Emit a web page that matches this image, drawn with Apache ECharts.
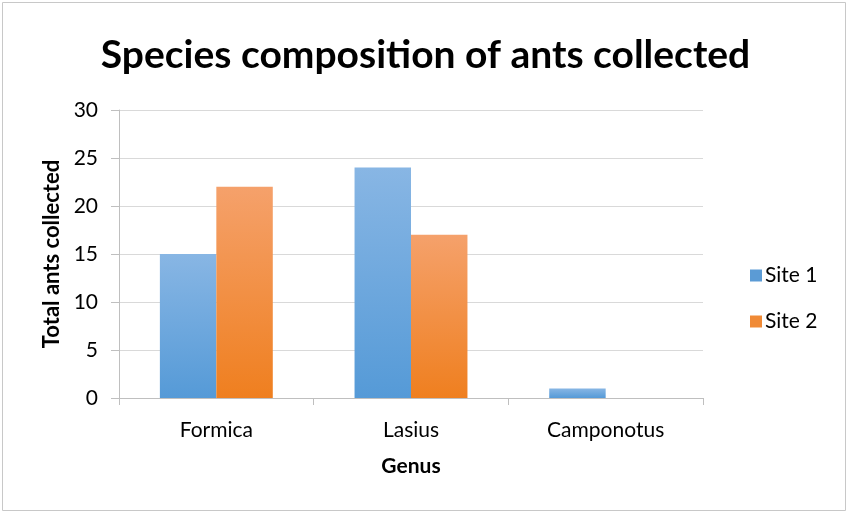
<!DOCTYPE html>
<html>
<head>
<meta charset="utf-8">
<script src="https://cdn.jsdelivr.net/npm/echarts@6/dist/echarts.min.js"></script>
<style>
  html, body { margin: 0; padding: 0; background: #fff; }
  #chart { width: 851px; height: 513px; }
</style>
</head>
<body>
<div id="chart"></div>
<script>
// Ant counts per genus at each collection site
const genera = ['Formica', 'Lasius', 'Camponotus'];
const site1 = [15, 24, 1];
const site2 = [22, 17, 0];
const seriesNames = ['Site 1', 'Site 2'];

const FONT = 'Lato, "Open Sans", sans-serif';

function vGrad(top, bottom) {
  return new echarts.graphic.LinearGradient(0, 0, 0, 1, [
    { offset: 0, color: top },
    { offset: 1, color: bottom }
  ]);
}

const chart = echarts.init(document.getElementById('chart'), null, { renderer: 'canvas' });

chart.setOption({
  backgroundColor: '#ffffff',
  animation: false,
  graphic: [{
    type: 'rect',
    shape: { x: 2.5, y: 2.5, width: 843, height: 508 },
    style: { fill: 'none', stroke: '#c8c8c8', lineWidth: 1 },
    silent: true
  }],
  title: {
    text: 'Species composition of ants collected',
    left: 'center',
    top: 31,
    textStyle: { fontFamily: FONT, fontSize: 39, fontWeight: 'bold', color: '#000' }
  },
  legend: {
    orient: 'vertical',
    left: 745,
    top: 260,
    itemWidth: 12,
    itemHeight: 12,
    itemGap: 25,
    icon: 'rect',
    data: [
      { name: seriesNames[0], itemStyle: { color: '#5b9bd5' } },
      { name: seriesNames[1], itemStyle: { color: '#f08a36' } }
    ],
    textStyle: { fontFamily: FONT, fontSize: 21, color: '#000', padding: [0, 0, 0, -2] }
  },
  grid: { left: 119, right: 148, top: 110, bottom: 115, containLabel: false },
  xAxis: {
    type: 'category',
    data: genera,
    name: 'Genus',
    nameLocation: 'middle',
    nameGap: 58,
    nameTextStyle: { fontFamily: FONT, fontSize: 21, fontWeight: 'bold', color: '#000' },
    axisLine: { lineStyle: { color: '#bfbfbf', width: 1 } },
    axisTick: { show: true, length: 7, lineStyle: { color: '#bfbfbf' } },
    axisLabel: { fontFamily: FONT, fontSize: 21, color: '#000', margin: 22 }
  },
  yAxis: {
    type: 'value',
    min: 0,
    max: 30,
    interval: 5,
    name: 'Total ants collected',
    nameLocation: 'middle',
    nameGap: 56,
    nameRotate: 90,
    nameTextStyle: { fontFamily: FONT, fontSize: 22, fontWeight: 'bold', color: '#000' },
    axisLine: { show: true, lineStyle: { color: '#bfbfbf', width: 1 } },
    axisTick: { show: true, length: 8, lineStyle: { color: '#bfbfbf' } },
    axisLabel: { fontFamily: FONT, fontSize: 21, color: '#000', margin: 21 },
    splitLine: { lineStyle: { color: '#d9d9d9', width: 1 } }
  },
  series: [
    {
      name: seriesNames[0],
      type: 'bar',
      data: site1,
      barGap: '0%',
      barCategoryGap: '42%',
      itemStyle: { color: vGrad('#88b6e4', '#559ad7') }
    },
    {
      name: seriesNames[1],
      type: 'bar',
      data: site2,
      barGap: '0%',
      barCategoryGap: '42%',
      itemStyle: { color: vGrad('#f5a16b', '#ef7f1f') }
    }
  ]
});
</script>
</body>
</html>
